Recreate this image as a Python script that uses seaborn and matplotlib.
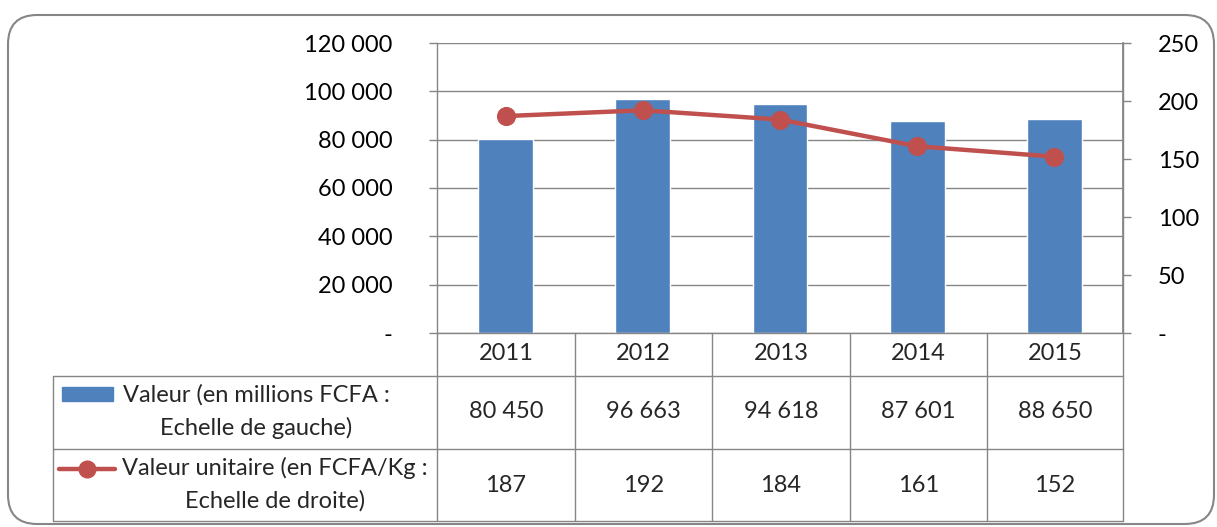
import matplotlib
matplotlib.use("Agg")
import matplotlib.pyplot as plt
import seaborn as sns
import numpy as np
import pandas as pd
from matplotlib.lines import Line2D
from matplotlib.patches import FancyBboxPatch, Rectangle
from matplotlib.ticker import FuncFormatter

# ---- data ----
years = ["2011", "2012", "2013", "2014", "2015"]
valeur = [80450, 96663, 94618, 87601, 88650]
valeur_unitaire = [187, 192, 184, 161, 152]
label_valeur = ["Valeur (en millions FCFA :", "Echelle de gauche)"]
label_unitaire = ["Valeur unitaire (en FCFA/Kg :", "Echelle de droite)"]
left_ticks = [0, 20000, 40000, 60000, 80000, 100000, 120000]
right_ticks = [0, 50, 100, 150, 200, 250]

BLUE = "#4F81BD"
RED = "#C0504D"
GRAY = "#868686"
FS = 17

sns.set_theme(style="white")
plt.rcParams["font.family"] = ["Lato", "DejaVu Sans"]

W, H = 1217, 527
fig = plt.figure(figsize=(W / 100, H / 100), dpi=100)

def fx(px):
    return px / W

def fy(py):
    return 1 - py / H

# plot area
x0, x1, ytop, ybot = 437, 1123, 43, 333
ax = fig.add_axes([fx(x0), fy(ybot), fx(x1) - fx(x0), fy(ytop) - fy(ybot)])

df = pd.DataFrame({"annee": years, "valeur": valeur, "unitaire": valeur_unitaire})
sns.barplot(data=df, x="annee", y="valeur", ax=ax, color=BLUE, saturation=1, width=0.4)
ax.set_xlim(-0.5, len(years) - 0.5)
ax.set_ylim(0, 120000)
ax.set_yticks(left_ticks)
fmt = lambda v, p: "-" if v == 0 else f"{v:,.0f}".replace(",", " ")
ax.yaxis.set_major_formatter(FuncFormatter(fmt))
ax.set_xticks([])
ax.set_xlabel("")
ax.set_ylabel("")
ax.set_axisbelow(True)
ax.yaxis.grid(True, color=GRAY, lw=1)
ax.tick_params(axis="y", which="major", left=True, length=5.5, width=1, color=GRAY,
               direction="out", pad=26.5, labelsize=FS, labelcolor="black")
for s in ["top"]:
    ax.spines[s].set_visible(False)
for s in ["left", "bottom", "right"]:
    ax.spines[s].set_color(GRAY)
    ax.spines[s].set_linewidth(1)

ax2 = ax.twinx()
sns.lineplot(x=np.arange(len(years)), y=valeur_unitaire, ax=ax2, color=RED, lw=3.2,
             marker="o", markersize=13, markeredgecolor=RED, markerfacecolor=RED)
ax2.set_ylim(0, 250)
ax2.set_xlim(-0.5, len(years) - 0.5)
ax2.set_yticks(right_ticks)
ax2.yaxis.set_major_formatter(FuncFormatter(fmt))
ax2.tick_params(axis="y", right=True, length=5.5, width=1, color=GRAY, direction="out",
                pad=19.5, labelsize=FS, labelcolor="black")
for s in ["top", "left", "bottom"]:
    ax2.spines[s].set_visible(False)
ax2.spines["right"].set_color(GRAY)
ax2.set_ylabel("")
ax2.grid(False)

# ---- outer rounded border ----
border = FancyBboxPatch((fx(8), fy(524)), fx(1214) - fx(8), fy(15) - fy(524),
                        boxstyle="round,pad=0,rounding_size=0.024",
                        transform=fig.transFigure, fill=False, ec=GRAY, lw=1.5,
                        mutation_aspect=W / H)
fig.add_artist(border)

# ---- data table ----
col_x = [437, 575, 712, 850, 987, 1123]
row_y = [333, 376, 449, 521]
tl = dict(color=GRAY, lw=1, transform=fig.transFigure)

def hline(y, xa, xb):
    fig.add_artist(Line2D([fx(xa), fx(xb)], [fy(y), fy(y)], **tl))

def vline(x, ya, yb):
    fig.add_artist(Line2D([fx(x), fx(x)], [fy(ya), fy(yb)], **tl))

for y in row_y[1:]:
    hline(y, 53, 1123)
vline(53, 376, 521)
for x in col_x:
    vline(x, 333, 521)

for i, yr in enumerate(years):
    cx = (col_x[i] + col_x[i + 1]) / 2
    fig.text(fx(cx), fy(354), yr, ha="center", va="center", fontsize=FS)
    fig.text(fx(cx), fy(412), f"{valeur[i]:,}".replace(",", " "), ha="center",
             va="center", fontsize=FS)
    fig.text(fx(cx), fy(486), str(valeur_unitaire[i]), ha="center", va="center",
             fontsize=FS)

# legend keys inside table
fig.add_artist(Rectangle((fx(62), fy(401)), fx(113) - fx(62), fy(387) - fy(401),
                         transform=fig.transFigure, color=BLUE))
fig.add_artist(Line2D([fx(59), fx(115)], [fy(469), fy(469)], color=RED, lw=3.2,
                      transform=fig.transFigure))
fig.add_artist(Line2D([fx(87)], [fy(469)], color=RED, marker="o", markersize=12,
                      transform=fig.transFigure))

fig.text(fx(256), fy(395), label_valeur[0], ha="center", va="center", fontsize=FS)
fig.text(fx(256), fy(428), label_valeur[1], ha="center", va="center", fontsize=FS)
fig.text(fx(275), fy(468), label_unitaire[0], ha="center", va="center", fontsize=FS)
fig.text(fx(275), fy(501), label_unitaire[1], ha="center", va="center", fontsize=FS)

fig.savefig("out.png", dpi=100, facecolor="white")
